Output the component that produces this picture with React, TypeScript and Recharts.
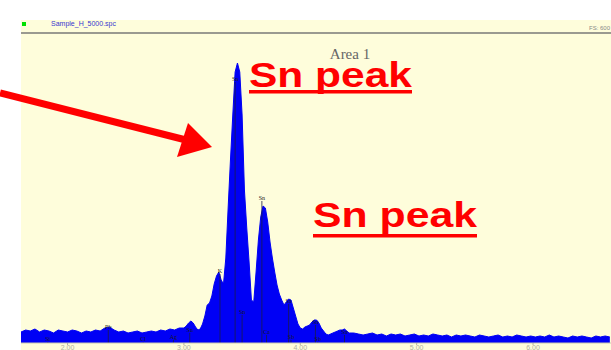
// EDS spectrum "Area 1": blue filled counts over keV on a cream panel, with red "Sn peak" callouts.
import { Area, AreaChart, ReferenceLine, XAxis, YAxis } from 'recharts';

const BLUE = '#0000F5';
const PANEL = '#FEFDDB';
const RED = '#FF0000';

const TITLE = 'Area 1';
const FILE_NAME = 'Sample_H_5000.spc';
const FULL_SCALE = 'FS: 600';
const CALLOUT = 'Sn peak';

// energies (keV) and counts
const KEV = [
  1.6, 1.64, 1.68, 1.72, 1.76, 1.8, 1.84, 1.88, 1.92, 1.96, 2.0, 2.04, 2.08, 2.12, 2.16, 2.2, 2.24, 2.28,
  2.32, 2.36, 2.4, 2.44, 2.48, 2.52, 2.56, 2.6, 2.64, 2.68, 2.72, 2.76, 2.8, 2.84, 2.88, 2.92, 2.96,
  3.0, 3.02, 3.04, 3.06, 3.08, 3.1, 3.12, 3.14, 3.16, 3.18, 3.2, 3.22, 3.24, 3.26, 3.28, 3.3, 3.32, 3.34,
  3.36, 3.38, 3.4, 3.42, 3.44, 3.46, 3.48, 3.5, 3.52, 3.54, 3.56, 3.58, 3.6, 3.62, 3.64, 3.66, 3.68, 3.7,
  3.72, 3.74, 3.76, 3.78, 3.8, 3.82, 3.84, 3.86, 3.88, 3.9, 3.92, 3.94, 3.96, 3.98, 4.0, 4.02, 4.04, 4.06,
  4.08, 4.1, 4.12, 4.14, 4.16, 4.18, 4.2, 4.22, 4.24, 4.26, 4.28, 4.3, 4.32, 4.34, 4.36, 4.38, 4.4, 4.42,
  4.46, 4.5, 4.54, 4.58, 4.62, 4.66, 4.7, 4.74, 4.78, 4.82, 4.86, 4.9, 4.94, 4.98, 5.02, 5.06, 5.1, 5.14,
  5.18, 5.22, 5.26, 5.3, 5.34, 5.38, 5.42, 5.46, 5.5, 5.54, 5.58, 5.62, 5.66, 5.7, 5.74, 5.78, 5.82, 5.86,
  5.9, 5.94, 5.98, 6.02, 6.06, 6.1, 6.14, 6.18, 6.22, 6.26, 6.3, 6.34, 6.38, 6.42, 6.46, 6.5, 6.54, 6.58,
  6.62, 6.66,
];
const COUNTS = [
  22, 26, 24, 28, 22, 26, 24, 20, 26, 24, 22, 26, 24, 20, 24, 22, 26, 24,
  30, 32, 26, 22, 24, 20, 22, 24, 20, 22, 24, 22, 26, 24, 28, 26, 30,
  30, 34, 40, 44, 40, 32, 26, 28, 38, 54, 76, 80, 94, 118, 134, 142, 126, 118,
  170, 270, 366, 456, 542, 560, 542, 456, 306, 230, 162, 86, 82, 142, 206, 252, 274, 270,
  242, 202, 170, 142, 116, 98, 86, 76, 82, 88, 86, 70, 54, 38, 30, 28, 32, 34,
  36, 42, 46, 46, 40, 30, 24, 18, 16, 18, 20, 22, 24, 26, 26, 28, 24, 20,
  20, 18, 16, 18, 20, 16, 18, 14, 18, 16, 18, 14, 16, 18, 14, 16, 14, 18,
  16, 14, 16, 12, 16, 14, 16, 14, 12, 16, 14, 12, 14, 16, 12, 14, 12, 16,
  14, 12, 14, 12, 14, 12, 16, 12, 14, 12, 10, 14, 12, 14, 12, 10, 14, 12,
  14, 12,
];

const TICKS_KEV = [2, 3, 4, 5, 6];

// element marker lines (keV, height in counts, label)
const MARKER_KEV = [1.83, 2.35, 2.65, 2.91, 3.05, 3.31, 3.44, 3.5, 3.67, 3.71, 3.9, 3.92, 4.13, 4.15, 4.38];
const MARKER_TOP = [2, 26, 2, 6, 20, 138, 522, 56, 284, 16, 78, 6, 36, 2, 16];
const MARKER_LABEL = ['Si', 'Pb', 'Cl', 'Ag', 'Sn', 'K', 'Sn', 'Sn', 'Sn', 'Ca', 'Sn', 'Sb', 'Sn', 'Sb', 'Sn'];

const data = KEV.map((kev, i) => ({ kev, counts: COUNTS[i] }));

function Overlay() {
  return (
    <svg width={611} height={350} style={{ position: 'absolute', left: 0, top: 0, pointerEvents: 'none' }}>
      {/* header strip */}
      <rect x={22} y={22} width={4} height={4} fill="#00E000" />
      <text x={51} y={26} fontSize={7} fontFamily="Arial, 'Liberation Sans', sans-serif" fill="#3838D0">
        {FILE_NAME}
      </text>
      <text x={610} y={30} textAnchor="end" fontSize={6} fontFamily="Arial, 'Liberation Sans', sans-serif" fill="#888">
        {FULL_SCALE}
      </text>
      <rect x={21} y={32} width={590} height={2} fill="#9A9A90" />

      <text x={350} y={59} textAnchor="middle" fontSize={15} fontFamily="'Liberation Serif', 'Times New Roman', serif" fill="#666">
        {TITLE}
      </text>

      {/* arrow pointing at the main peak */}
      <line x1={0} y1={93} x2={186} y2={140} stroke={RED} strokeWidth={7} />
      <polygon points="188,123 212,147 177,157" fill={RED} />

      {/* callouts */}
      <text x={249} y={87} fontSize={35} fontWeight="bold" fontFamily="Arial, 'Liberation Sans', sans-serif" fill={RED} textLength={163} lengthAdjust="spacingAndGlyphs">
        {CALLOUT}
      </text>
      <rect x={249} y={90} width={163} height={3.5} fill={RED} />
      <text x={313} y={227} fontSize={35} fontWeight="bold" fontFamily="Arial, 'Liberation Sans', sans-serif" fill={RED} textLength={164} lengthAdjust="spacingAndGlyphs">
        {CALLOUT}
      </text>
      <rect x={313} y={234} width={164} height={3.5} fill={RED} />
    </svg>
  );
}

export default function App() {
  return (
    <div style={{ position: 'absolute', left: 0, top: 0, width: 611, height: 350, background: '#fff', overflow: 'hidden' }}>
      <div style={{ position: 'absolute', left: 21, top: 20, width: 590, height: 330, background: PANEL }} />
      <div style={{ position: 'absolute', left: 0, top: 0 }}>
        <AreaChart width={611} height={350} data={data} margin={{ top: 43, right: 0, bottom: 0, left: 21 }}>
          <XAxis
            dataKey="kev"
            type="number"
            domain={[1.6, 6.67]}
            ticks={TICKS_KEV}
            allowDataOverflow
            height={7}
            tickSize={2}
            tickMargin={0}
            tickFormatter={(v: number) => v.toFixed(2)}
            tick={{ fontSize: 7, fill: '#B0B0A0', fontFamily: 'Arial, sans-serif' }}
            axisLine={{ stroke: '#C8C8B0' }}
            tickLine={{ stroke: '#B0B0A0' }}
          />
          <YAxis hide domain={[0, 600]} allowDataOverflow />
          <Area
            type="linear"
            dataKey="counts"
            stroke={BLUE}
            strokeWidth={1}
            fill={BLUE}
            fillOpacity={1}
            dot={false}
            activeDot={false}
            isAnimationActive={false}
          />
          {MARKER_KEV.map((k, i) => (
            <ReferenceLine
              key={i}
              segment={[{ x: k, y: 0 }, { x: k, y: MARKER_TOP[i] }]}
              stroke="#1C1C48"
              strokeWidth={0.8}
              label={{ value: MARKER_LABEL[i], position: 'top', offset: 1, fontSize: 6, fill: '#1A1A1A' }}
            />
          ))}
        </AreaChart>
      </div>
      <Overlay />
    </div>
  );
}
